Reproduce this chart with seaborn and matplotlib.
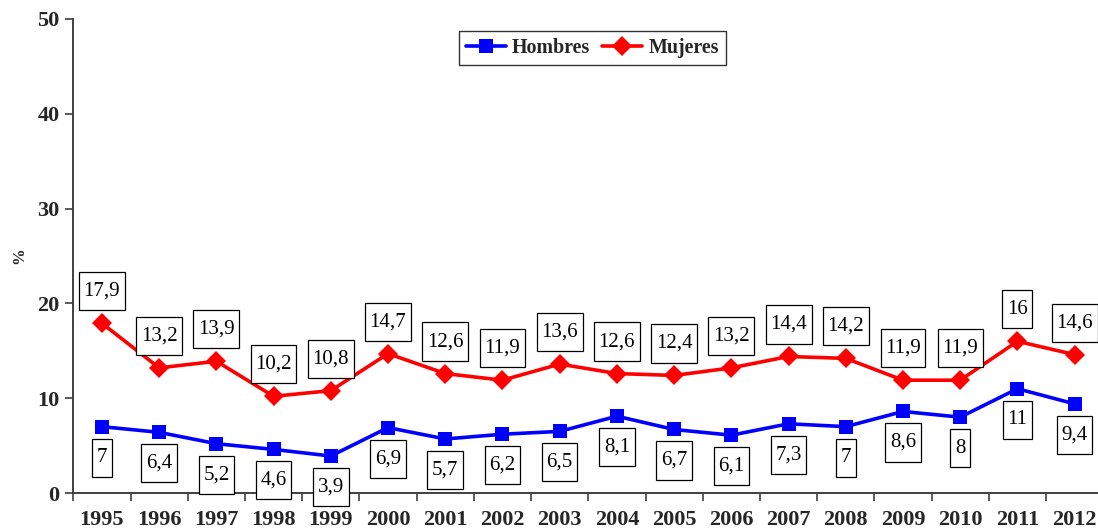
import numpy as np
import pandas as pd
import matplotlib
matplotlib.use("Agg")
import matplotlib.pyplot as plt
from matplotlib.path import Path
import seaborn as sns

# ---- data ----
years = [str(y) for y in range(1995, 2013)]
hombres = [7, 6.4, 5.2, 4.6, 3.9, 6.9, 5.7, 6.2, 6.5, 8.1, 6.7, 6.1, 7.3, 7, 8.6, 8, 11, 9.4]
mujeres = [17.9, 13.2, 13.9, 10.2, 10.8, 14.7, 12.6, 11.9, 13.6, 12.6, 12.4, 13.2, 14.4, 14.2, 11.9, 11.9, 16, 14.6]
y_ticks = [0, 10, 20, 30, 40, 50]

df = pd.DataFrame({
    "year": years * 2,
    "value": hombres + mujeres,
    "sexo": ["Hombres"] * len(years) + ["Mujeres"] * len(years),
})

sns.set_theme(style="ticks")
plt.rcParams["font.family"] = ["Liberation Serif", "DejaVu Serif"]


def tall_box(x0, y0, width, height, mutation_size):
    # rectangle with more vertical than horizontal padding (Excel-like label box)
    px = 0.22 * mutation_size
    py = 0.46 * mutation_size
    x0, y0 = x0 - px, y0 - py
    x1, y1 = x0 + width + 2 * px, y0 + height + 2 * py
    return Path([(x0, y0), (x1, y0), (x1, y1), (x0, y1), (x0, y0)], closed=True)


fig = plt.figure(figsize=(10.98, 5.32), dpi=100)
ax = fig.add_axes([0.0668, 0.0733, 0.938, 0.891])

styles = {
    "Hombres": dict(color="#0000FF", marker="s", ms=10.5),
    "Mujeres": dict(color="#FF0000", marker="D", ms=10),
}
for name, st in styles.items():
    sns.lineplot(data=df[df["sexo"] == name], x="year", y="value", ax=ax,
                 color=st["color"], marker=st["marker"], markersize=st["ms"],
                 markeredgewidth=0, linewidth=2.6, sort=False, label=name)

# data labels
for i, v in enumerate(mujeres):
    ax.annotate(f"{v:g}".replace(".", ","), (i, v), xytext=(0, 32),
                textcoords="offset pixels", ha="center", va="center",
                fontsize=15, color="black",
                bbox=dict(boxstyle=tall_box, fc="white", ec="black", lw=0.9))
for i, v in enumerate(hombres):
    ax.annotate(f"{v:g}".replace(".", ","), (i, v), xytext=(0, -31),
                textcoords="offset pixels", ha="center", va="center",
                fontsize=15, color="black",
                bbox=dict(boxstyle=tall_box, fc="white", ec="black", lw=0.9))

ax.set_xlim(-0.5, len(years) - 0.5)
ax.set_ylim(0, 50)
ax.set_yticks(y_ticks)
ax.set_yticklabels([str(t) for t in y_ticks], fontsize=16, fontweight="bold")
ax.set_xticks(range(len(years)))
ax.set_xticklabels(years, fontsize=16, fontweight="bold")
ax.tick_params(axis="x", length=0, pad=12)
ax.set_xticks(np.arange(-0.5, len(years), 1), minor=True)
ax.tick_params(axis="x", which="minor", length=6, width=1.2, color="#404040", direction="out")
ax.tick_params(axis="y", length=6, width=1.2, color="#404040", pad=4)
ax.set_xlabel("")
ax.set_ylabel("%", fontsize=12, fontweight="bold", labelpad=7)

for s in ["top", "right"]:
    ax.spines[s].set_visible(False)
for s in ["left", "bottom"]:
    ax.spines[s].set_color("#404040")
    ax.spines[s].set_linewidth(1.4)

leg = ax.legend(loc="upper center", bbox_to_anchor=(0.504, 0.975), ncol=2,
                frameon=True, fancybox=False, edgecolor="black",
                prop={"family": "Liberation Serif", "weight": "bold", "size": 14.4},
                handlelength=2.0, columnspacing=0.6, handletextpad=0.3,
                borderpad=0.35, borderaxespad=0)
leg.get_frame().set_linewidth(1.0)

fig.savefig("out.png", dpi=100)
